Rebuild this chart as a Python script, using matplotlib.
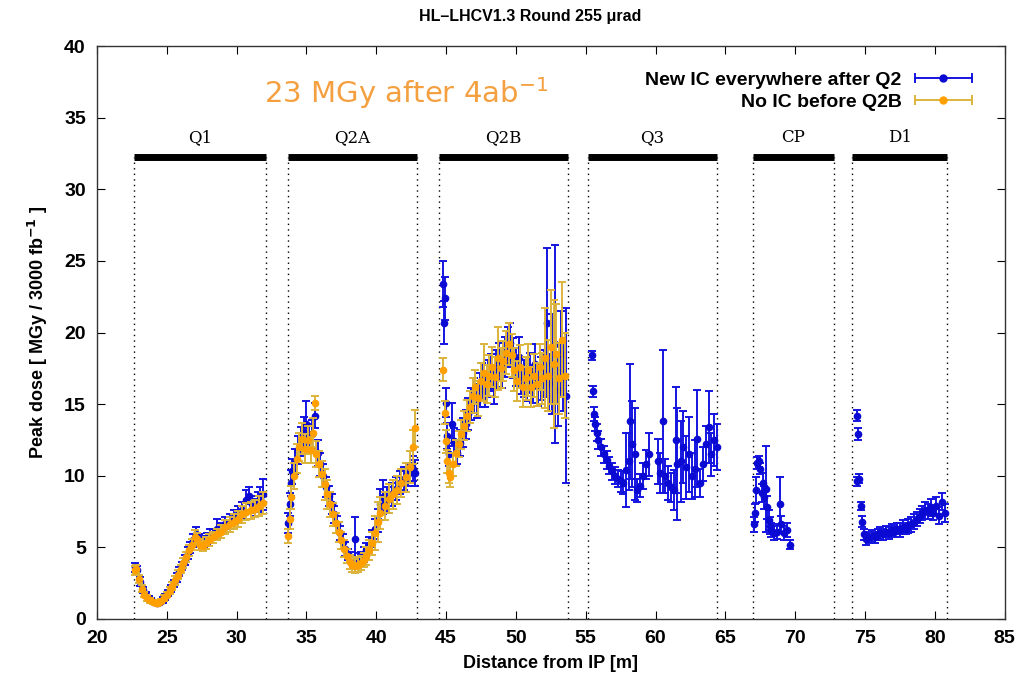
import matplotlib
matplotlib.use("Agg")
import matplotlib.pyplot as plt
from matplotlib.lines import Line2D
from matplotlib.legend_handler import HandlerBase
import numpy as np

plt.rcParams['font.family'] = ['Liberation Sans', 'DejaVu Sans']

# magnet regions: name, start, end [m]
regions = ['Q1', 'Q2A', 'Q2B', 'Q3', 'CP', 'D1']
reg_start = [22.65, 33.67, 44.5, 55.15, 67.0, 74.1]
reg_end = [32.1, 42.9, 53.7, 64.4, 72.75, 80.85]

# "New IC everywhere after Q2" (blue)
blue_x = [22.7, 22.9, 23.1, 23.3, 23.5, 23.7, 23.9, 24.1, 24.3, 24.5, 24.7, 24.9, 25.1, 25.3, 25.5,
          25.7, 25.9, 26.1, 26.3, 26.5, 26.7, 26.9, 27.1, 27.3, 27.5, 27.7, 27.9, 28.1, 28.3, 28.6,
          28.9, 29.2, 29.5, 29.8, 30.1, 30.4, 30.7, 30.9, 31.1, 31.3, 31.5, 31.7, 31.9,
          33.7, 33.8, 33.9, 34.0, 34.2, 34.4, 34.6, 34.8, 35.0, 35.2, 35.4, 35.6, 35.8, 36.0, 36.2,
          36.4, 36.6, 36.8, 37.0, 37.2, 37.4, 37.6, 37.8, 38.0, 38.2, 38.5, 38.7, 38.9, 39.1, 39.3,
          39.5, 39.7, 39.9, 40.1, 40.3, 40.5, 40.8, 41.1, 41.4, 41.7, 42.0, 42.3, 42.6, 42.8,
          44.8, 44.85, 44.9, 45.0, 45.1, 45.2, 45.4, 45.6, 45.8, 46.0, 46.2, 46.4, 46.6, 46.8, 47.0,
          47.2, 47.4, 47.6, 47.8, 48.0, 48.2, 48.4, 48.6, 48.8, 49.0, 49.2, 49.4, 49.6, 49.8, 50.0,
          50.2, 50.4, 50.6, 50.8, 51.0, 51.2, 51.4, 51.6, 51.8, 52.0, 52.2, 52.4, 52.6, 52.8, 53.0,
          53.2, 53.4, 53.6,
          55.45, 55.5, 55.6, 55.7, 55.8, 55.9, 56.1, 56.3, 56.5, 56.7, 56.9, 57.1, 57.3, 57.5, 57.7,
          57.9, 58.1, 58.2, 58.3, 58.5, 58.7, 58.9, 59.1, 59.3, 59.5, 60.2, 60.3, 60.5, 60.7, 60.9,
          61.1, 61.3, 61.5, 61.55, 61.8, 62.0, 62.2, 62.4, 62.6, 62.8, 63.0, 63.2, 63.4, 63.6, 63.8,
          64.0, 64.2, 64.4,
          67.05, 67.1, 67.2, 67.3, 67.4, 67.5, 67.6, 67.7, 67.8, 67.9, 68.0, 68.1, 68.2, 68.3, 68.5,
          68.7, 68.9, 69.0, 69.2, 69.4, 69.6,
          74.4, 74.45, 74.5, 74.6, 74.7, 74.8, 74.95, 75.1, 75.3, 75.5, 75.7, 75.9, 76.1, 76.3, 76.5,
          76.7, 76.9, 77.1, 77.3, 77.5, 77.7, 77.9, 78.1, 78.3, 78.5, 78.7, 78.9, 79.1, 79.3, 79.5,
          79.7, 79.9, 80.1, 80.3, 80.5, 80.7]
blue_y = [3.6, 3.4, 2.6, 2.0, 1.7, 1.45, 1.3, 1.2, 1.15, 1.2, 1.35, 1.55, 1.8, 2.1, 2.5,
          2.9, 3.3, 3.7, 4.1, 4.6, 5.0, 5.5, 5.9, 5.5, 5.3, 5.4, 5.6, 5.8, 5.9, 6.3,
          6.3, 6.6, 6.8, 7.1, 7.3, 7.6, 8.3, 8.6, 8.0, 7.8, 8.2, 8.4, 8.7,
          6.7, 8.0, 9.5, 10.3, 11.0, 11.8, 12.4, 13.0, 13.6, 12.6, 12.9, 14.2, 11.6, 10.8, 10.0,
          9.2, 8.6, 8.0, 7.3, 6.6, 6.0, 5.4, 4.9, 4.5, 4.3, 5.6, 4.2, 4.3, 4.5, 4.8,
          5.2, 5.6, 6.3, 6.9, 8.0, 8.5, 8.3, 8.7, 9.1, 9.5, 9.8, 10.1, 10.5, 10.2,
          23.4, 20.7, 22.4, 15.1, 12.8, 11.5, 13.6, 12.4, 11.6, 12.3, 13.0, 13.6, 14.3, 15.0, 15.6,
          15.2, 16.0, 16.6, 16.0, 16.8, 17.2, 16.3, 17.5, 18.0, 17.4, 18.3, 19.0, 19.3, 18.2, 17.6,
          18.3, 17.0, 16.8, 16.5, 17.2, 16.4, 17.8, 16.2, 16.8, 17.2, 20.7, 16.5, 17.8, 19.2, 16.0,
          18.5, 17.0, 15.6,
          18.4, 15.9, 14.3, 13.6, 13.0, 12.5, 12.0, 11.5, 11.1, 10.7, 10.3, 10.0, 9.8, 9.6, 9.5,
          10.4, 11.0, 13.8, 12.2, 11.5, 9.0, 9.3, 10.0, 10.8, 11.5, 11.0, 10.2, 13.8, 10.0, 9.5,
          9.2, 9.0, 12.5, 10.8, 11.0, 12.0, 10.6, 11.5, 10.0, 10.5, 12.6, 9.5, 10.8, 12.2, 13.4,
          11.5, 12.5, 12.0,
          6.6, 7.4, 9.0, 10.9, 11.0, 10.5, 8.8, 9.5, 8.5, 9.1, 7.8, 6.9, 6.5, 6.2, 6.0,
          6.1, 8.0, 6.6, 6.0, 6.2, 5.2,
          9.6, 14.2, 12.9, 9.8, 7.9, 6.8, 5.9, 5.6, 5.7, 5.8, 5.7, 5.9, 6.0, 5.9, 6.1,
          6.0, 6.2, 6.1, 6.3, 6.2, 6.4, 6.3, 6.5, 6.6, 6.8, 7.0, 7.2, 7.4, 7.6, 7.5,
          7.8, 7.4, 7.9, 7.2, 8.2, 7.4]
blue_err = [0.3, 0.3, 0.3, 0.2, 0.2, 0.15, 0.15, 0.15, 0.15, 0.15, 0.2, 0.2, 0.2, 0.25, 0.25,
            0.3, 0.3, 0.3, 0.35, 0.4, 0.4, 0.45, 0.5, 0.4, 0.4, 0.4, 0.4, 0.45, 0.4, 0.7,
            0.4, 0.5, 0.5, 0.5, 0.6, 0.6, 0.7, 0.6, 0.6, 0.6, 0.7, 0.8, 1.1,
            0.7, 0.8, 0.9, 0.9, 0.9, 1.0, 1.0, 1.1, 1.6, 1.0, 1.0, 0.9, 0.9, 0.8, 0.8,
            0.7, 0.7, 0.7, 0.6, 0.6, 0.5, 0.5, 0.5, 0.4, 0.4, 1.5, 0.4, 0.4, 0.5, 0.5,
            0.5, 0.6, 0.7, 0.8, 1.1, 1.2, 0.9, 0.8, 0.8, 0.8, 0.8, 0.8, 0.9, 0.9,
            1.6, 1.5, 1.5, 1.0, 0.9, 0.8, 1.5, 0.9, 0.8, 0.9, 1.0, 1.0, 1.1, 1.1, 1.2,
            1.2, 1.2, 1.3, 1.2, 1.3, 1.3, 1.3, 1.3, 1.3, 1.3, 1.4, 1.4, 1.4, 1.4, 1.3,
            1.4, 1.3, 1.3, 1.3, 1.4, 1.3, 1.4, 1.3, 1.5, 1.6, 5.2, 2.0, 3.5, 6.9, 2.5,
            3.0, 2.5, 6.1,
            0.3, 0.4, 0.5, 0.5, 0.6, 0.6, 0.6, 0.6, 0.6, 0.6, 0.6, 0.6, 0.6, 0.7, 0.8,
            2.6, 2.0, 4.0, 3.0, 3.2, 0.8, 0.8, 0.9, 1.0, 1.5, 1.6, 1.4, 5.0, 1.2, 1.2,
            1.0, 1.4, 3.7, 3.9, 2.8, 2.5, 2.2, 2.6, 1.6, 2.0, 3.4, 1.0, 1.2, 1.3, 2.5,
            1.5, 1.8, 1.6,
            0.5, 0.6, 0.9, 0.4, 0.4, 0.4, 0.6, 0.7, 0.8, 3.0, 0.8, 0.7, 0.6, 0.5, 0.5,
            0.5, 1.9, 0.6, 0.5, 0.5, 0.3,
            0.3, 0.4, 0.4, 0.3, 0.3, 0.4, 0.4, 0.4, 0.4, 0.4, 0.4, 0.4, 0.4, 0.4, 0.4,
            0.4, 0.4, 0.4, 0.4, 0.5, 0.5, 0.4, 0.5, 0.5, 0.5, 0.5, 0.5, 0.5, 0.6, 0.5,
            0.6, 0.5, 0.6, 0.6, 0.6, 0.6]

# "No IC before Q2B" (orange)
orange_x = [22.7, 22.8, 23.0, 23.2, 23.4, 23.6, 23.8, 24.0, 24.2, 24.4, 24.6, 24.8, 25.0, 25.2, 25.4,
            25.6, 25.8, 26.0, 26.2, 26.4, 26.6, 26.8, 27.0, 27.2, 27.4, 27.6, 27.8, 28.0, 28.3, 28.6,
            28.9, 29.2, 29.5, 29.8, 30.1, 30.4, 30.7, 31.0, 31.3, 31.6, 31.9,
            33.7, 33.8, 33.9, 34.1, 34.3, 34.5, 34.7, 34.9, 35.1, 35.3, 35.5, 35.6, 35.7, 35.9, 36.1,
            36.3, 36.5, 36.7, 36.9, 37.1, 37.3, 37.5, 37.7, 37.9, 38.1, 38.3, 38.5, 38.7, 38.9, 39.1,
            39.3, 39.5, 39.7, 39.9, 40.1, 40.3, 40.6, 40.9, 41.2, 41.5, 41.8, 42.1, 42.4, 42.6, 42.8,
            44.8, 44.9, 45.0, 45.1, 45.2, 45.3, 45.5, 45.7, 45.9, 46.1, 46.3, 46.5, 46.7, 46.9, 47.1,
            47.3, 47.5, 47.7, 47.9, 48.1, 48.3, 48.5, 48.7, 48.9, 49.1, 49.3, 49.5, 49.7, 49.9, 50.1,
            50.3, 50.5, 50.7, 50.9, 51.1, 51.3, 51.5, 51.7, 51.9, 52.1, 52.3, 52.5, 52.7, 52.9, 53.1,
            53.3, 53.5]
orange_y = [3.4, 3.5, 2.8, 2.1, 1.7, 1.45, 1.3, 1.2, 1.1, 1.15, 1.25, 1.45, 1.7, 2.0, 2.3,
            2.7, 3.1, 3.5, 3.9, 4.3, 4.8, 5.2, 5.7, 5.6, 5.2, 5.1, 5.3, 5.5, 5.7, 5.9,
            6.1, 6.4, 6.6, 6.8, 7.0, 7.3, 7.5, 7.6, 7.7, 7.9, 8.1,
            5.8, 7.0, 8.5, 10.0, 11.2, 12.0, 12.6, 11.9, 12.5, 11.8, 13.0, 15.1, 11.5, 10.8, 10.1,
            9.4, 8.7, 8.0, 7.3, 6.7, 6.1, 5.5, 4.9, 4.4, 4.0, 3.8, 3.7, 3.8, 3.9, 4.1,
            4.4, 4.8, 5.3, 6.0, 6.8, 7.4, 7.9, 8.4, 8.7, 9.0, 9.5, 9.9, 10.6, 12.0, 13.3,
            17.4, 14.4, 12.4, 11.0, 10.2, 9.9, 10.8, 11.6, 12.2, 12.9, 13.5, 14.2, 14.8, 15.6, 16.2,
            15.4, 16.6, 17.2, 16.4, 17.0, 17.6, 16.9, 18.2, 17.5, 18.0, 18.6, 19.2, 18.4, 17.4, 16.6,
            17.6, 16.2, 16.8, 17.4, 16.2, 17.0, 16.4, 17.6, 16.8, 18.2, 17.0, 19.0, 17.8, 18.5, 16.8,
            19.5, 17.0]
orange_err = [0.3, 0.3, 0.3, 0.25, 0.2, 0.2, 0.15, 0.15, 0.15, 0.15, 0.15, 0.2, 0.2, 0.25, 0.25,
              0.3, 0.3, 0.3, 0.35, 0.35, 0.4, 0.4, 0.5, 0.4, 0.4, 0.35, 0.4, 0.4, 0.4, 0.4,
              0.45, 0.5, 0.5, 0.5, 0.55, 0.6, 0.6, 0.6, 0.6, 0.7, 0.8,
              0.5, 0.7, 0.8, 0.9, 1.0, 1.0, 1.1, 1.0, 1.0, 0.9, 1.0, 0.5, 0.9, 0.9, 0.9,
              1.1, 1.0, 0.9, 0.8, 0.7, 0.7, 0.6, 0.6, 0.5, 0.5, 0.5, 0.5, 0.5, 0.5, 0.5,
              0.6, 0.7, 0.8, 1.2, 1.4, 1.1, 1.0, 1.0, 1.0, 1.0, 1.0, 1.0, 1.1, 1.2, 1.3,
              0.8, 0.8, 0.8, 0.8, 0.7, 0.7, 0.8, 0.9, 0.9, 1.0, 1.0, 1.1, 1.1, 1.2, 1.2,
              1.2, 1.3, 2.0, 1.3, 1.4, 1.4, 1.4, 2.2, 1.4, 1.4, 1.5, 1.5, 1.5, 1.5, 1.4,
              1.5, 1.4, 1.5, 1.8, 1.4, 1.5, 1.5, 1.6, 1.8, 3.5, 2.5, 4.0, 4.5, 3.5, 2.5,
              4.0, 3.0]

BLUE_DOT, BLUE_BAR = '#0a0ad2', '#1414e0'
ORANGE_DOT, ORANGE_BAR = '#ffa000', '#dcb43c'


class HandlerHBar(HandlerBase):
    """gnuplot-like legend sample: horizontal bar with end caps and a dot."""
    def __init__(self, bar_color, dot_color):
        super().__init__()
        self.bar_color = bar_color
        self.dot_color = dot_color

    def create_artists(self, legend, orig_handle, xdescent, ydescent, width, height,
                       fontsize, trans):
        x0, x1 = -xdescent, -xdescent + width
        y = height / 2 - ydescent
        c = height * 0.3
        arts = [Line2D([x0, x1], [y, y], color=self.bar_color, lw=1.4),
                Line2D([x0, x0], [y - c, y + c], color=self.bar_color, lw=1.4),
                Line2D([x1, x1], [y - c, y + c], color=self.bar_color, lw=1.4),
                Line2D([(x0 + x1) / 2], [y], marker='o', ms=5, color=self.dot_color, lw=0)]
        for a in arts:
            a.set_transform(trans)
        return arts


fig = plt.figure(figsize=(10.2, 6.79), dpi=100)
ax = fig.add_axes([0.095, 0.0884, 0.89, 0.8437])

# region markers: dotted boundaries and black bars with labels
bar_y = 32.25
for name, x0, x1 in zip(regions, reg_start, reg_end):
    ax.plot([x0, x0], [0, bar_y], color='black', ls=(0, (1, 3)), lw=1, zorder=1)
    ax.plot([x1, x1], [0, bar_y], color='black', ls=(0, (1, 3)), lw=1, zorder=1)
    ax.plot([x0, x1], [bar_y, bar_y], color='black', lw=5, solid_capstyle='butt', zorder=1)
    ax.text((x0 + x1) / 2, 33.6, name, ha='center', va='center', fontsize=12,
            family='DejaVu Serif')

ax.errorbar(blue_x, blue_y, yerr=blue_err, fmt='o', color=BLUE_DOT, ms=4.5,
            ecolor=BLUE_BAR, elinewidth=1.4, capsize=3, capthick=1.4, zorder=3)
ax.errorbar(orange_x, orange_y, yerr=orange_err, fmt='o', color=ORANGE_DOT, ms=4.5,
            ecolor=ORANGE_BAR, elinewidth=1.4, capsize=3, capthick=1.4, zorder=4)

h1 = Line2D([], [], label='New IC everywhere after Q2')
h2 = Line2D([], [], label='No IC before Q2B')
ax.legend(handles=[h1, h2],
          handler_map={h1: HandlerHBar(BLUE_BAR, BLUE_DOT), h2: HandlerHBar(ORANGE_BAR, ORANGE_DOT)},
          loc='upper right', bbox_to_anchor=(0.972, 0.97), frameon=False, markerfirst=False,
          handlelength=2.9, handletextpad=0.7, labelspacing=0.25, borderaxespad=0,
          prop={'weight': 'bold', 'size': 14})

ax.text(32.0, 36.7, '23 MGy after 4ab$^{-1}$', color='#f5a040', fontsize=21,
        family='DejaVu Sans', ha='left', va='center')

ax.set_xlim(20, 85)
ax.set_ylim(0, 40)
ax.set_xticks(np.arange(20, 86, 5))
ax.set_yticks(np.arange(0, 41, 5))
ax.tick_params(direction='in', top=True, right=True, length=6, width=0.8,
               labelsize=14, pad=8)
for lab in ax.get_xticklabels() + ax.get_yticklabels():
    lab.set_fontweight('bold')
for sp in ax.spines.values():
    sp.set_color('#333333')
    sp.set_linewidth(1)

ax.set_xlabel('Distance from IP [m]', fontsize=13, fontweight='bold', labelpad=6)
ax.set_ylabel(r'Peak dose [ MGy / 3000 fb$^{\mathbf{-1}}$ ]', fontsize=13,
              fontweight='bold', labelpad=10)
fig.text(0.52, 0.976, 'HL\u2013LHCV1.3 Round 255 \u03bcrad', ha='center', va='center',
         fontsize=11.5, fontweight='bold')

plt.savefig('out.png', dpi=100)
plt.close()
